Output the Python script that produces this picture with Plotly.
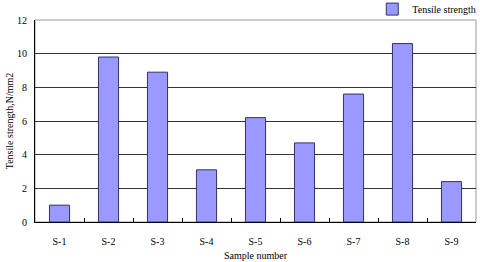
import plotly.graph_objects as go

samples = ["S-1", "S-2", "S-3", "S-4", "S-5", "S-6", "S-7", "S-8", "S-9"]
tensile = [1.0, 9.8, 8.9, 3.1, 6.2, 4.7, 7.6, 10.6, 2.4]
y_ticks = [0, 2, 4, 6, 8, 10, 12]

fig = go.Figure()
fig.add_trace(go.Bar(
    x=samples, y=tensile, name="Tensile strength",
    marker=dict(color="#9999FF", line=dict(color="#333366", width=1)),
    width=0.41, showlegend=True,
))

font = dict(family="Liberation Serif, Times New Roman, serif", size=10, color="black")
fig.update_layout(
    width=480, height=262,
    margin=dict(l=35, r=4, t=20, b=40, autoexpand=False),
    paper_bgcolor="white", plot_bgcolor="white",
    font=font,
    showlegend=True,
    legend=dict(x=1.012, y=1.054, xanchor="right", yanchor="middle", font=font,
                bgcolor="rgba(0,0,0,0)", itemwidth=30, tracegroupgap=0),
    bargap=0.59,
    xaxis=dict(
        title=dict(text="Sample number", font=font, standoff=5),
        showline=True, linecolor="black", linewidth=1, automargin=False,
        mirror=False, ticks="inside", tickson="boundaries", ticklen=4,
        tickcolor="black", showgrid=False, ticklabelstandoff=10,
    ),
    yaxis=dict(
        title=dict(text="Tensile strength,N/mm2", font=font, standoff=1),
        range=[0, 12], tickvals=y_ticks, showline=True, linecolor="black",
        linewidth=1, showgrid=True, gridcolor="#333333", gridwidth=1,
        ticks="", ticklabelstandoff=5, zeroline=False, automargin=False,
    ),
    shapes=[dict(type="rect", xref="paper", yref="paper", x0=0, x1=1, y0=0, y1=1,
                 line=dict(color="#999999", width=1), layer="below")],
)
fig.write_html("out.html", config={"displayModeBar": False},
               post_script="document.body.style.margin='0';")
